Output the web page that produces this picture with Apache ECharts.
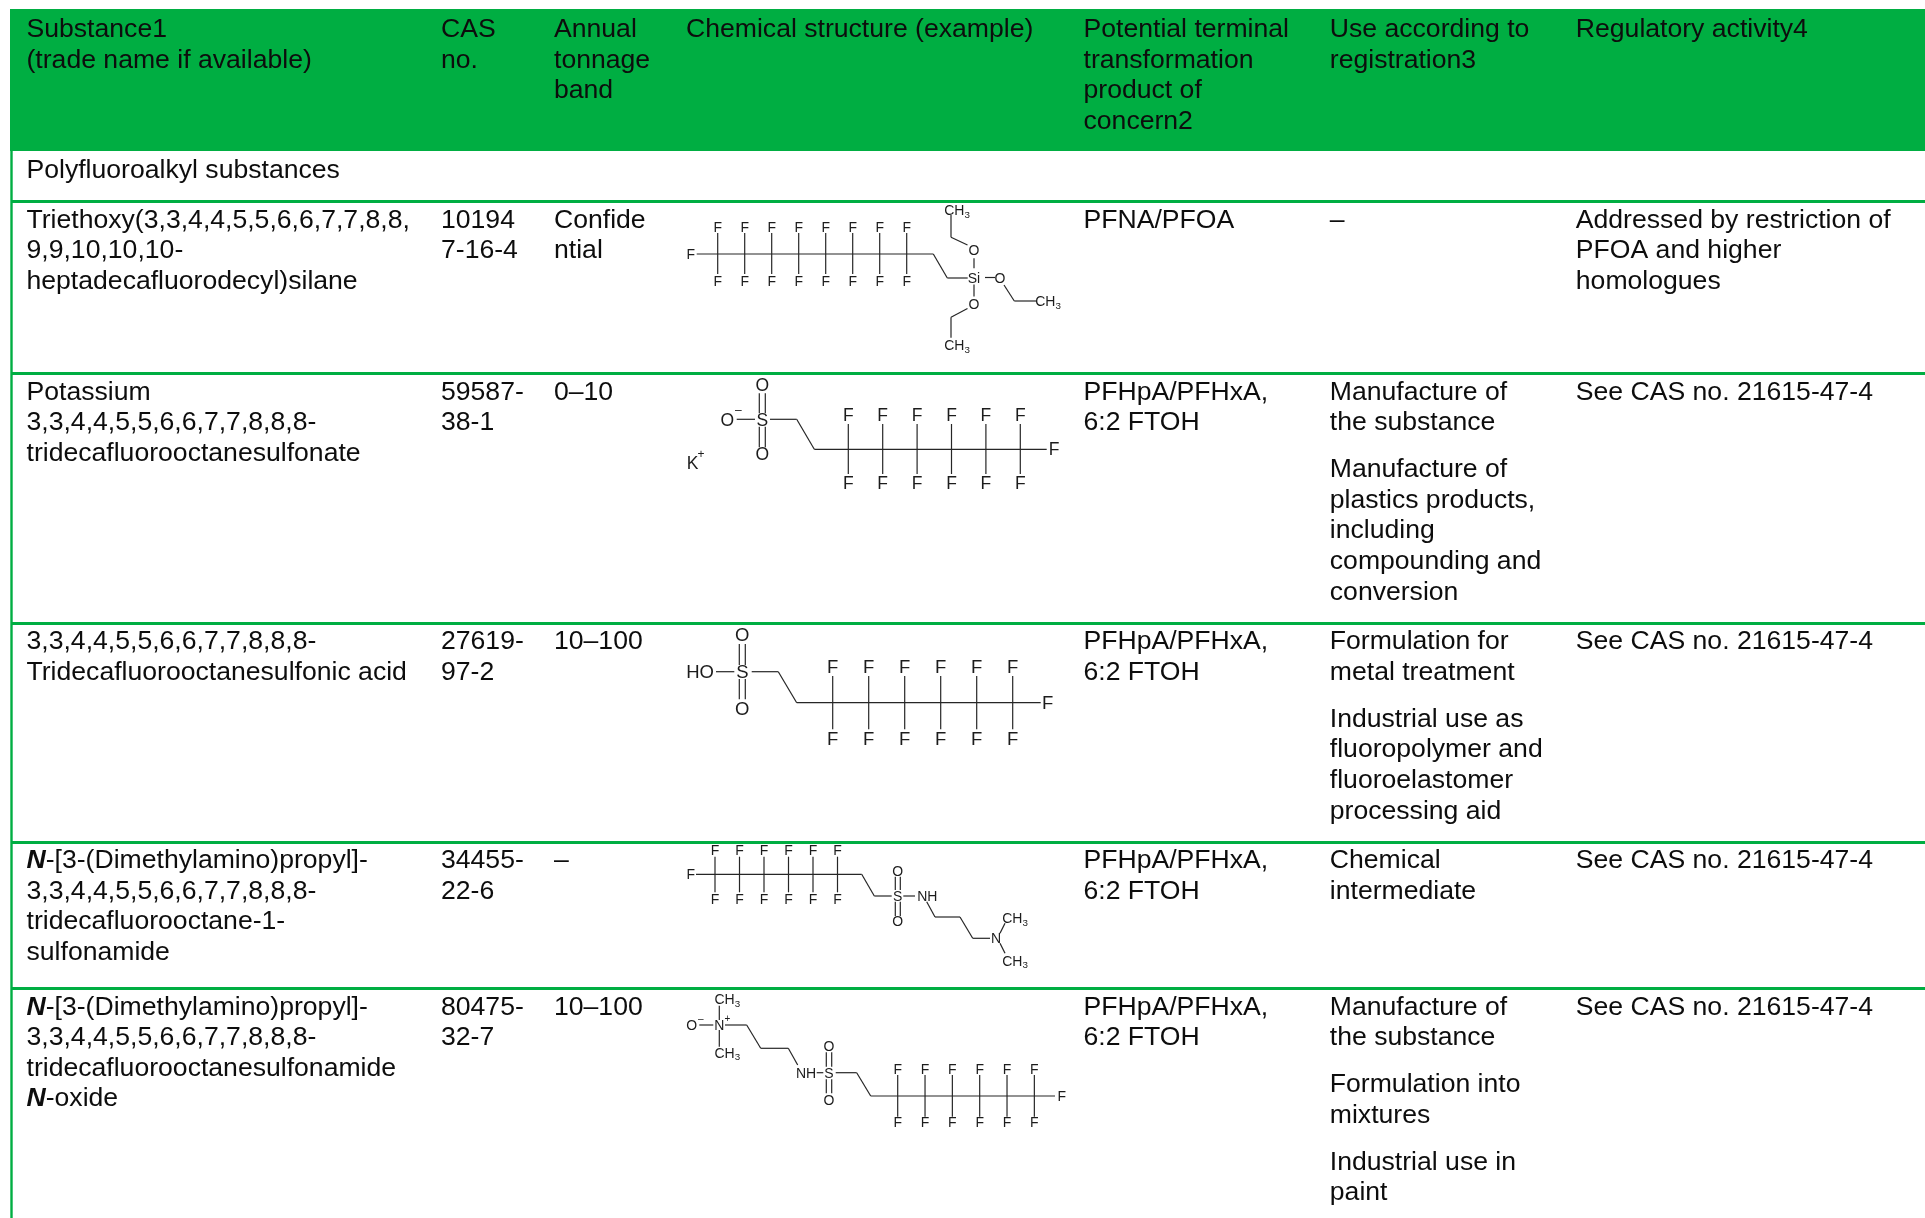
<!DOCTYPE html>
<html><head><meta charset="utf-8">
<script src="https://cdn.jsdelivr.net/npm/echarts@6/dist/echarts.min.js"></script>
<style>html,body{margin:0;padding:0;background:#fff}#c{width:1925px;height:1218px}</style>
</head><body><div id="c"></div>
<script>
// ---------- table text ----------
const headers = [
  ['Substance1','(trade name if available)'],
  ['CAS','no.'],
  ['Annual','tonnage','band'],
  ['Chemical structure (example)'],
  ['Potential terminal','transformation','product of','concern2'],
  ['Use according to','registration3'],
  ['Regulatory activity4']
];
const sectionTitle = 'Polyfluoroalkyl substances';
const substances = [
  ['Triethoxy(3,3,4,4,5,5,6,6,7,7,8,8,','9,9,10,10,10-','heptadecafluorodecyl)silane'],
  ['Potassium','3,3,4,4,5,5,6,6,7,7,8,8,8-','tridecafluorooctanesulfonate'],
  ['3,3,4,4,5,5,6,6,7,7,8,8,8-','Tridecafluorooctanesulfonic acid'],
  ['{b|N}-[3-(Dimethylamino)propyl]-','3,3,4,4,5,5,6,6,7,7,8,8,8-','tridecafluorooctane-1-','sulfonamide'],
  ['{b|N}-[3-(Dimethylamino)propyl]-','3,3,4,4,5,5,6,6,7,7,8,8,8-','tridecafluorooctanesulfonamide','{b|N}-oxide']
];
const casNumbers = [['10194','7-16-4'],['59587-','38-1'],['27619-','97-2'],['34455-','22-6'],['80475-','32-7']];
const tonnageBands = [['Confide','ntial'],['0–10'],['10–100'],['–'],['10–100']];
const terminalProducts = [
  ['PFNA/PFOA'],
  ['PFHpA/PFHxA,','6:2 FTOH'],
  ['PFHpA/PFHxA,','6:2 FTOH'],
  ['PFHpA/PFHxA,','6:2 FTOH'],
  ['PFHpA/PFHxA,','6:2 FTOH']
];
const registeredUses = [
  [['–']],
  [['Manufacture of','the substance'],['Manufacture of','plastics products,','including','compounding and','conversion']],
  [['Formulation for','metal treatment'],['Industrial use as','fluoropolymer and','fluoroelastomer','processing aid']],
  [['Chemical','intermediate']],
  [['Manufacture of','the substance'],['Formulation into','mixtures'],['Industrial use in','paint']]
];
const regulatoryActivity = [
  ['Addressed by restriction of','PFOA and higher','homologues'],
  ['See CAS no. 21615-47-4'],
  ['See CAS no. 21615-47-4'],
  ['See CAS no. 21615-47-4'],
  ['See CAS no. 21615-47-4']
];

// ---------- layout ----------
const W = 1925, H = 1218;
const GREEN = '#00AE42', INK = '#0d0d0d', BOND = '#262626';
const FONT = '"Liberation Sans", Arial, sans-serif';
const FS = 26.6, LH = 30.6, PGAP = 16.4, BASE_SHIFT = 8.9, ATOM_SHIFT = 1.3;
const colX = [26.5, 441, 554, 686, 1083.5, 1329.8, 1575.8];
const headerTop = 36, sectionBase = 177.3;
const rowBase = [226.7, 398.7, 648.2, 867.2, 1013.7];
const rulesY = [201.5, 373.5, 623.5, 842.5, 988.5];
const SA = 14, SB = 17.5, SC = 18.5;

// ---------- structure drawings ----------
function ch3(x, y, s) { return [[x - 0.195 * s, y, 'CH', s], [x + 0.722 * s, y + 0.25 * s, '3', s * 0.7]]; }
function dbl(xa, xb, y1, y2) { return [[xa, y1, xa, y2], [xb, y1, xb, y2]]; }
const molecules = [
  { chain: { n: 8, x: 717.7, dx: 27, up: 233, down: 274, fUp: 227.3, fDown: 280.7, s: SA },
    bonds: [[696.7,254,933.3,254],[933.3,254,947.3,278],[947.3,278,967.7,278],
      [974,268.3,974,258.3],[967.5,245,951,237.3],[951,237.3,951,215],
      [985,277.5,995,277.5],[1004,285,1014.3,301],[1014.3,301,1036,301],
      [974,284.5,974,296.5],[967.5,308.5,951,317.3],[951,317.3,951,337.7]],
    atoms: [[690.7,254,'F',SA],[974,277.5,'Si',SA],[974,250,'O',SA],[1000,277.5,'O',SA],[974,304.3,'O',SA],
      ...ch3(957,210,SA),...ch3(1048,301,SA),...ch3(957,345,SA)] },
  { chain: { n: 6, x: 848.3, dx: 34.4, up: 424, down: 474, fUp: 415, fDown: 483.3, s: SB },
    bonds: [[814.3,449.3,1046.7,449.3],[814.3,449.3,796.7,419.3],[796.7,419.3,770,419.3],
      ...dbl(759.3,765.3,413.3,393.3),...dbl(759.3,765.3,426.7,447.3),[736.7,419.3,755,419.3]],
    atoms: [[1054,449.3,'F',SB],[762.3,419.5,'S',SB],[762.3,385,'O',SB],[762.3,454,'O',SB],
      [727.3,419.5,'O',SB],[738.3,409.5,'–',12],[692.7,462.7,'K',SB],[701,453.3,'+',12]] },
  { chain: { n: 6, x: 832.7, dx: 36, up: 676, down: 729.3, fUp: 666.7, fDown: 738.3, s: SC },
    bonds: [[796.7,702.7,1040.7,702.7],[796.7,702.7,778.3,671.7],[778.3,671.7,751.7,671.7],
      ...dbl(739.3,745.3,665,644),...dbl(739.3,745.3,679,699.3),[716,671.7,734.3,671.7]],
    atoms: [[1047.7,702.7,'F',SC],[742.3,671.7,'S',SC],[742.3,635,'O',SC],[742.3,708.3,'O',SC],[700,671.7,'HO',SC]] },
  { chain: { n: 6, x: 715, dx: 24.5, up: 856.7, down: 892.3, fUp: 850, fDown: 899, s: SA },
    bonds: [[696,874.3,861.7,874.3],[861.7,874.3,874.3,896],[874.3,896,891.7,896],
      ...dbl(895.3,900.3,890,876.7),...dbl(895.3,900.3,901.7,916),[903.3,896,915,896],
      [926.7,901.7,935,917],[935,917,960,917],[960,917,972.7,938.3],[972.7,938.3,990,938.3],
      [1000,933.3,1005,923.3],[1000,943.3,1005,953.3]],
    atoms: [[690.7,874.3,'F',SA],[897.7,896,'S',SA],[897.7,871,'O',SA],[897.7,920.7,'O',SA],[927.3,896,'NH',SA],[996,938.3,'N',SA],
      ...ch3(1015,918.3,SA),...ch3(1015,960.7,SA)] },
  { chain: { n: 6, x: 897.7, dx: 27.33, up: 1075, down: 1116.7, fUp: 1069.3, fDown: 1122.3, s: SA },
    bonds: [[719.3,1005.7,719.3,1020],[719.3,1030,719.3,1046.7],[699.3,1025,713.3,1025],[725,1025,746.7,1025],
      [746.7,1025,760.7,1048.3],[760.7,1048.3,788.3,1048.3],[788.3,1048.3,797.7,1065],[816.7,1072.7,823.3,1072.7],
      ...dbl(826.3,831.7,1066.7,1052.3),...dbl(826.3,831.7,1079.3,1093.3),
      [835.7,1072.7,856.7,1072.7],[856.7,1072.7,870.7,1096],[870.7,1096,1055,1096]],
    atoms: [[719.3,1025,'N',SA],[691.7,1025,'O',SA],[700.7,1017.7,'–',10],[727.3,1017.7,'+',10],
      ...ch3(727.3,999,SA),...ch3(727.3,1052.7,SA),
      [806,1072.7,'NH',SA],[829,1072.7,'S',SA],[829,1045.7,'O',SA],[829,1100,'O',SA],[1061.7,1096,'F',SA]] }
];
// the CF2 units of each chain: a stem with an F at either end
const bondData = [], atomData = [];
molecules.forEach(m => {
  m.bonds.forEach(b => bondData.push(b));
  m.atoms.forEach(a => atomData.push(a));
  const c = m.chain;
  for (let i = 0; i < c.n; i++) {
    const x = c.x + i * c.dx;
    bondData.push([x, c.up, x, c.down]);
    atomData.push([x, c.fUp, 'F', c.s], [x, c.fDown, 'F', c.s]);
  }
});

// ---------- cell lines ----------
const lines = [];
function put(x, y, t) { lines.push({ value: [x, y + BASE_SHIFT], text: t }); }
headers.forEach((h, c) => h.forEach((t, i) => put(colX[c], headerTop + i * LH, t)));
put(colX[0], sectionBase, sectionTitle);
rowBase.forEach((y0, r) => {
  [substances[r], casNumbers[r], tonnageBands[r]].forEach((ls, c) =>
    ls.forEach((t, i) => put(colX[c], y0 + i * LH, t)));
  terminalProducts[r].forEach((t, i) => put(colX[4], y0 + i * LH, t));
  let y = y0;
  registeredUses[r].forEach(p => {
    p.forEach(t => { put(colX[5], y, t); y += LH; });
    y += PGAP;
  });
  regulatoryActivity[r].forEach((t, i) => put(colX[6], y0 + i * LH, t));
});

const bands = [[10, 9, W, 151], [10.3, 151, 12.7, H]];
const rules = rulesY.map(y => [12, y, W, y]);

const option = {
  animation: false,
  backgroundColor: '#fff',
  grid: { left: 0, right: 0, top: 0, bottom: 0 },
  xAxis: { type: 'value', min: 0, max: W, show: false },
  yAxis: { type: 'value', min: 0, max: H, inverse: true, show: false },
  tooltip: { show: false },
  series: [
    { type: 'custom', coordinateSystem: 'cartesian2d', silent: true, clip: false, data: bands,
      renderItem: (p, api) => {
        const a = api.coord([api.value(0), api.value(1)]), b = api.coord([api.value(2), api.value(3)]);
        return { type: 'rect', shape: { x: a[0], y: a[1], width: b[0] - a[0], height: b[1] - a[1] }, style: { fill: GREEN } };
      } },
    { type: 'custom', coordinateSystem: 'cartesian2d', silent: true, clip: false, data: rules,
      renderItem: (p, api) => {
        const a = api.coord([api.value(0), api.value(1)]), b = api.coord([api.value(2), api.value(3)]);
        return { type: 'line', shape: { x1: a[0], y1: a[1], x2: b[0], y2: b[1] }, style: { stroke: GREEN, lineWidth: 3 } };
      } },
    { type: 'custom', coordinateSystem: 'cartesian2d', silent: true, clip: false, data: bondData,
      renderItem: (p, api) => {
        const a = api.coord([api.value(0), api.value(1)]), b = api.coord([api.value(2), api.value(3)]);
        return { type: 'line', shape: { x1: a[0], y1: a[1], x2: b[0], y2: b[1] }, style: { stroke: BOND, lineWidth: 1.2 } };
      } },
    { type: 'custom', coordinateSystem: 'cartesian2d', silent: true, clip: false,
      data: atomData.map(a => [a[0], a[1]]),
      renderItem: (p, api) => {
        const a = atomData[p.dataIndex], c = api.coord([a[0], a[1] + ATOM_SHIFT]);
        return { type: 'text', x: c[0], y: c[1], style: { text: a[2], fontFamily: FONT, fontSize: a[3], fill: '#1c1c1c', align: 'center', verticalAlign: 'middle' } };
      } },
    { type: 'custom', coordinateSystem: 'cartesian2d', silent: true, clip: false,
      data: lines.map(l => l.value),
      renderItem: (p, api) => {
        const l = lines[p.dataIndex], c = api.coord(l.value);
        return { type: 'text', x: c[0], y: c[1], style: {
          text: l.text, fontFamily: FONT, fontSize: FS, fill: INK, align: 'left', verticalAlign: 'bottom', lineHeight: LH,
          rich: { b: { fontFamily: FONT, fontSize: FS, fontStyle: 'italic', fontWeight: 'bold', fill: INK, lineHeight: LH } }
        } };
      } }
  ]
};
const chart = echarts.init(document.getElementById('c'), null, { renderer: 'canvas' });
chart.setOption(option);
</script></body></html>
